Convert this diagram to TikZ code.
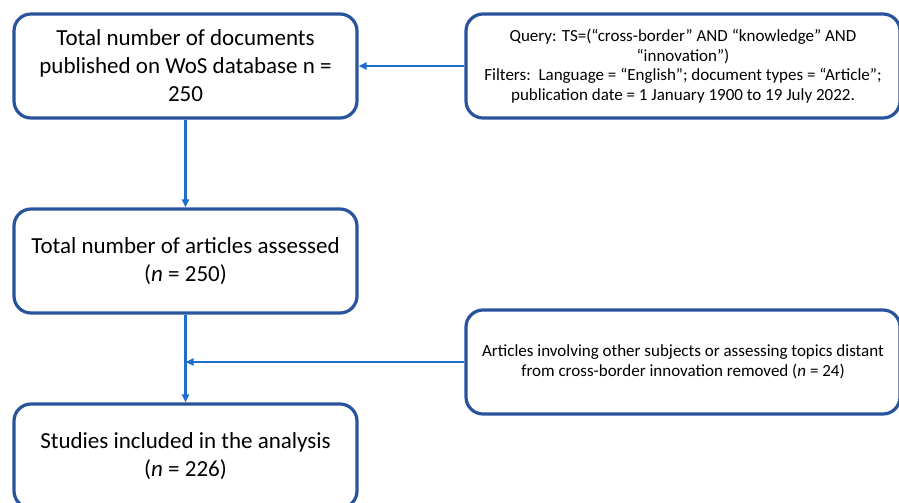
\documentclass[tikz,border=0pt]{standalone}
\usepackage{fontspec}
\setmainfont{Carlito}
\usepackage{tikz}
\usepackage{xcolor}
\usetikzlibrary{arrows.meta, positioning, calc}
\definecolor{cFrame}{RGB}{40,84,158}
\definecolor{cLink}{RGB}{30,110,205}
\tikzset{
	stagebox/.style={rectangle, rounded corners=17pt, minimum width=343pt, minimum height=104pt, text centered, align=center, draw=cFrame, line width=3.2pt, fill=white, font=\fontsize{23}{28}\selectfont},
	notebox/.style ={rectangle, rounded corners=17pt, minimum width=434pt, minimum height=104pt, text centered, align=center, draw=cFrame, line width=3.2pt, fill=white, font=\fontsize{17}{19.5}\selectfont},
	flowarrow/.style={-{Triangle[length=8pt, width=7pt]}, line width=2.6pt, draw=cLink},
}
\begin{document}
\begin{tikzpicture}[x=1pt, y=-1pt]
	\useasboundingbox (0,0) rectangle (899,503);
	\node[stagebox] (docs) at (185.5,66) {Total number of documents\\published on WoS database n =\\250};
	\node[notebox] (query) at (683,66) {Query: TS=(“cross-border” AND “knowledge” AND\\“innovation”)\\Filters:\ \ Language = “English”; document types = “Article”;\\publication date = 1 January 1900 to 19 July 2022.};
	\node[stagebox] (assessed) at (185.5,261) {Total number of articles assessed\\(\textit{n} = 250)};
	\node[notebox] (removed) at (683,362) {Articles involving other subjects or assessing topics distant\\from cross-border innovation removed (\textit{n} = 24)};
	\node[stagebox] (included) at (185.5,456) {Studies included in the analysis\\(\textit{n} = 226)};
	\coordinate (join) at (assessed.south |- removed.west);
	\draw[flowarrow] (query.west) -- (docs.east);
	\draw[flowarrow] (docs.south) -- (assessed.north);
	\draw[flowarrow] (assessed.south) -- (included.north);
	\draw[flowarrow] (removed.west) -- (join);
\end{tikzpicture}
\end{document}
